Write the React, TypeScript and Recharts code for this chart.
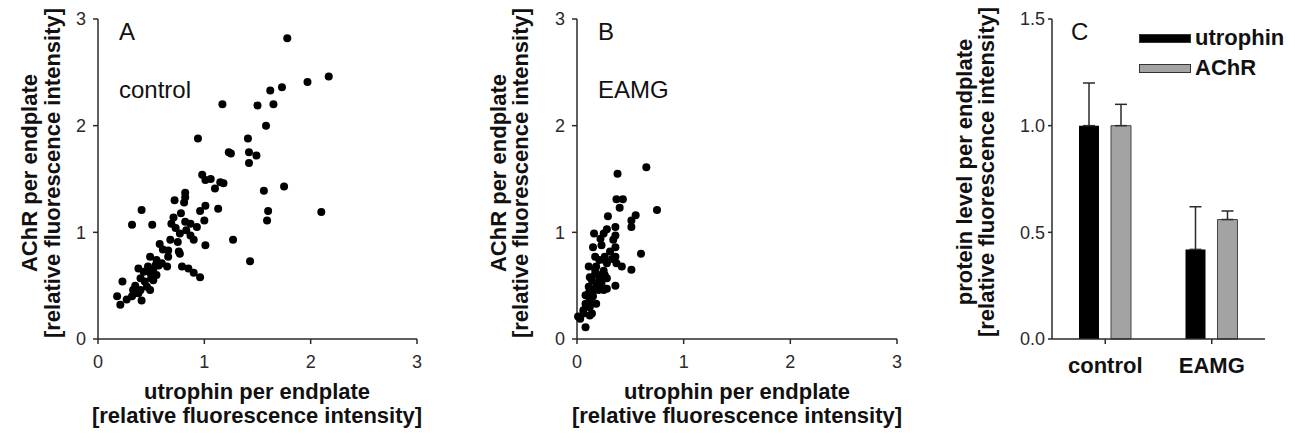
import { ScatterChart, Scatter, XAxis, YAxis, BarChart, Bar, ErrorBar, Legend } from 'recharts';

const FONT = '"Liberation Sans", Arial, Helvetica, sans-serif';
const INK = '#2a2a2a';

const scatterTicks = [0, 1, 2, 3];
const proteinTicks = [0, 0.5, 1.0, 1.5];

// [utrophin, AChR] per endplate, control muscle
const controlPoints: [number, number][] = [
  [1.78, 2.82], [2.17, 2.46], [1.97, 2.41], [1.73, 2.36], [1.62, 2.33], [1.65, 2.2], [1.5, 2.19],
  [1.17, 2.2], [1.58, 2.0], [0.94, 1.88], [1.41, 1.88], [1.23, 1.75], [1.25, 1.74], [1.42, 1.75],
  [1.49, 1.72], [1.42, 1.65], [0.98, 1.54], [1.01, 1.49], [1.06, 1.5], [1.1, 1.41], [1.15, 1.47],
  [1.18, 1.46], [1.56, 1.39], [1.75, 1.43], [0.82, 1.37], [1.13, 1.22], [1.6, 1.2], [1.59, 1.11],
  [2.1, 1.19], [1.27, 0.93], [1.43, 0.73],
  [0.72, 1.3], [0.82, 1.33], [0.81, 1.28], [0.41, 1.21], [0.32, 1.07], [0.51, 1.07], [0.78, 1.18],
  [0.96, 1.2], [1.01, 1.25], [1.0, 1.11], [0.71, 1.14], [0.69, 1.08], [0.73, 1.04], [0.82, 1.1],
  [0.87, 1.08], [0.93, 1.05], [0.83, 1.02], [0.87, 0.97], [0.9, 0.93], [1.01, 0.88], [0.77, 0.99],
  [0.75, 0.91], [0.68, 0.93], [0.66, 0.83], [0.58, 0.89], [0.61, 0.84], [0.76, 0.82], [0.77, 0.8],
  [0.49, 0.77], [0.55, 0.74], [0.57, 0.69], [0.65, 0.68], [0.66, 0.77], [0.79, 0.68], [0.85, 0.66],
  [0.9, 0.62], [0.96, 0.58], [0.38, 0.66], [0.43, 0.63], [0.47, 0.68], [0.52, 0.65], [0.55, 0.6],
  [0.49, 0.62], [0.4, 0.57], [0.44, 0.54], [0.5, 0.57], [0.52, 0.55], [0.35, 0.5], [0.4, 0.46],
  [0.46, 0.49], [0.49, 0.46], [0.33, 0.46], [0.38, 0.43], [0.54, 0.69], [0.6, 0.71], [0.23, 0.54],
  [0.18, 0.4], [0.21, 0.32], [0.27, 0.37], [0.32, 0.4], [0.41, 0.36], [0.35, 0.43],
];

// [utrophin, AChR] per endplate, EAMG muscle
const eamgPoints: [number, number][] = [
  [0.65, 1.61], [0.38, 1.55], [0.37, 1.31], [0.43, 1.31], [0.4, 1.23], [0.75, 1.21], [0.29, 1.15],
  [0.55, 1.16], [0.51, 1.11], [0.51, 1.05], [0.16, 0.99], [0.28, 1.03], [0.25, 0.99], [0.22, 0.94],
  [0.36, 0.97], [0.34, 0.93], [0.36, 0.86], [0.36, 1.05], [0.15, 0.86], [0.6, 0.8], [0.51, 0.65],
  [0.42, 0.68], [0.36, 0.5], [0.31, 0.82], [0.26, 0.77], [0.21, 0.74], [0.28, 0.71], [0.25, 0.64],
  [0.18, 0.68], [0.23, 0.88], [0.17, 0.77], [0.26, 0.74], [0.33, 0.75], [0.36, 0.77], [0.37, 0.71],
  [0.11, 0.68], [0.12, 0.58], [0.17, 0.61], [0.21, 0.55], [0.28, 0.57], [0.18, 0.5], [0.11, 0.49],
  [0.17, 0.65], [0.22, 0.6], [0.26, 0.6], [0.14, 0.55], [0.23, 0.52], [0.28, 0.47], [0.15, 0.46],
  [0.2, 0.46], [0.25, 0.46], [0.11, 0.43], [0.15, 0.4], [0.08, 0.41], [0.12, 0.36], [0.18, 0.33],
  [0.08, 0.33], [0.09, 0.3], [0.12, 0.3], [0.06, 0.27], [0.06, 0.24], [0.14, 0.24], [0.12, 0.22],
  [0.03, 0.19], [0.01, 0.21], [0.08, 0.11],
];

const groups = ['control', 'EAMG'];
const utrophinMean = [1.0, 0.42];
const utrophinSem = [0.2, 0.2];
const achrMean = [1.0, 0.56];
const achrSem = [0.1, 0.04];

const tickStyle = { fill: INK, fontSize: 18, fontFamily: FONT };
const lineStyle = { stroke: INK, strokeWidth: 1.5 };

const Dot = (p: any) => <circle cx={p.cx} cy={p.cy} r={4} fill="#000" />;

function AxisTitle({ x, y, lines, rotate, gap }: { x: number; y: number; lines: string[]; rotate?: boolean; gap: number }) {
  return (
    <g>
      {lines.map((t, i) =>
        rotate ? (
          <text key={i} x={x + i * gap} y={y} transform={`rotate(-90 ${x + i * gap} ${y})`} textAnchor="middle"
            fontFamily={FONT} fontWeight="bold" fontSize={22} fill="#111">{t}</text>
        ) : (
          <text key={i} x={x} y={y + i * gap} textAnchor="middle"
            fontFamily={FONT} fontWeight="bold" fontSize={22} fill="#111">{t}</text>
        )
      )}
    </g>
  );
}

type PanelProps = {
  left: number; width: number; yAxisWidth: number; points: [number, number][];
  letter: string; tag: string; textX: number; titleX: [number, number]; xTitleX: number;
};

function ScatterPanel({ left, width, yAxisWidth, points, letter, tag, textX, titleX, xTitleX }: PanelProps) {
  const data = points.map(([x, y]) => ({ x, y }));
  return (
    <div style={{ position: 'absolute', left, top: 0 }}>
      <ScatterChart width={width} height={442} margin={{ top: 19, right: 23, bottom: 63, left: 0 }}>
        <XAxis type="number" dataKey="x" domain={[0, 3]} ticks={scatterTicks} height={40}
          axisLine={lineStyle} tickLine={lineStyle} tickSize={5} tickMargin={11} tick={tickStyle} />
        <YAxis type="number" dataKey="y" domain={[0, 3]} ticks={scatterTicks} width={yAxisWidth}
          axisLine={lineStyle} tickLine={lineStyle} tickSize={5} tickMargin={7} tick={tickStyle} />
        <Scatter data={data} shape={Dot} isAnimationActive={false} />
        <text x={textX} y={40} fontFamily={FONT} fontSize={24} fill="#111">{letter}</text>
        <text x={textX} y={98} fontFamily={FONT} fontSize={24} fill="#111">{tag}</text>
        <AxisTitle x={titleX[0]} y={173} rotate gap={titleX[1] - titleX[0]}
          lines={['AChR per endplate', '[relative fluorescence intensity]']} />
        <AxisTitle x={xTitleX} y={399} gap={24}
          lines={['utrophin per endplate', '[relative fluorescence intensity]']} />
      </ScatterChart>
    </div>
  );
}

const barData = groups.map((g, i) => ({
  group: g,
  utrophin: utrophinMean[i],
  utrophinErr: [0, utrophinSem[i]],
  AChR: achrMean[i],
  AChRErr: [0, achrSem[i]],
}));

function LegendBox() {
  const rows = [
    { name: 'utrophin', fill: '#000' },
    { name: 'AChR', fill: '#a3a3a3' },
  ];
  return (
    <div style={{ fontFamily: FONT, fontWeight: 'bold', fontSize: 22, color: '#111', whiteSpace: 'nowrap' }}>
      {rows.map((r) => (
        <div key={r.name} style={{ display: 'flex', alignItems: 'center', height: 30 }}>
          <div style={{ width: 50, height: 7, background: r.fill, border: '1px solid #333', marginRight: 4 }} />
          <span>{r.name}</span>
        </div>
      ))}
    </div>
  );
}

function BarPanel() {
  return (
    <div style={{ position: 'absolute', left: 920, top: 0 }}>
      <BarChart width={375} height={442} data={barData} barSize={20} barGap={12}
        margin={{ top: 19, right: 30, bottom: 63, left: 0 }}>
        <XAxis dataKey="group" height={40} axisLine={lineStyle} tickLine={lineStyle} tickSize={5} tickMargin={13}
          tick={{ fill: '#111', fontSize: 22, fontFamily: FONT, fontWeight: 'bold' }} />
        <YAxis type="number" domain={[0, 1.5]} ticks={proteinTicks} width={132}
          tickFormatter={(v: number) => v.toFixed(1)}
          axisLine={lineStyle} tickLine={lineStyle} tickSize={4} tickMargin={3} tick={tickStyle} />
        <Legend layout="vertical" align="center" verticalAlign="middle" content={<LegendBox />}
          wrapperStyle={{ left: 219, top: 23, width: 160 }} />
        <Bar dataKey="utrophin" fill="#000" isAnimationActive={false}>
          <ErrorBar dataKey="utrophinErr" width={6} stroke={INK} strokeWidth={1.5} />
        </Bar>
        <Bar dataKey="AChR" fill="#a3a3a3" stroke="#444" strokeWidth={1} isAnimationActive={false}>
          <ErrorBar dataKey="AChRErr" width={6} stroke={INK} strokeWidth={1.5} />
        </Bar>
        <text x={151} y={40} fontFamily={FONT} fontSize={24} fill="#111">C</text>
        <AxisTitle x={52} y={172} rotate gap={22}
          lines={['protein level per endplate', '[relative fluorescence intensity]']} />
      </BarChart>
    </div>
  );
}

export default function App() {
  return (
    <div style={{ position: 'absolute', left: 0, top: 0, width: 1295, height: 442, background: '#fff' }}>
      <ScatterPanel left={0} width={440} yAxisWidth={98} points={controlPoints} letter="A" tag="control"
        textX={119} titleX={[37, 60]} xTitleX={257} />
      <ScatterPanel left={440} width={480} yAxisWidth={137} points={eamgPoints} letter="B" tag="EAMG"
        textX={158} titleX={[66, 88]} xTitleX={297} />
      <BarPanel />
    </div>
  );
}
